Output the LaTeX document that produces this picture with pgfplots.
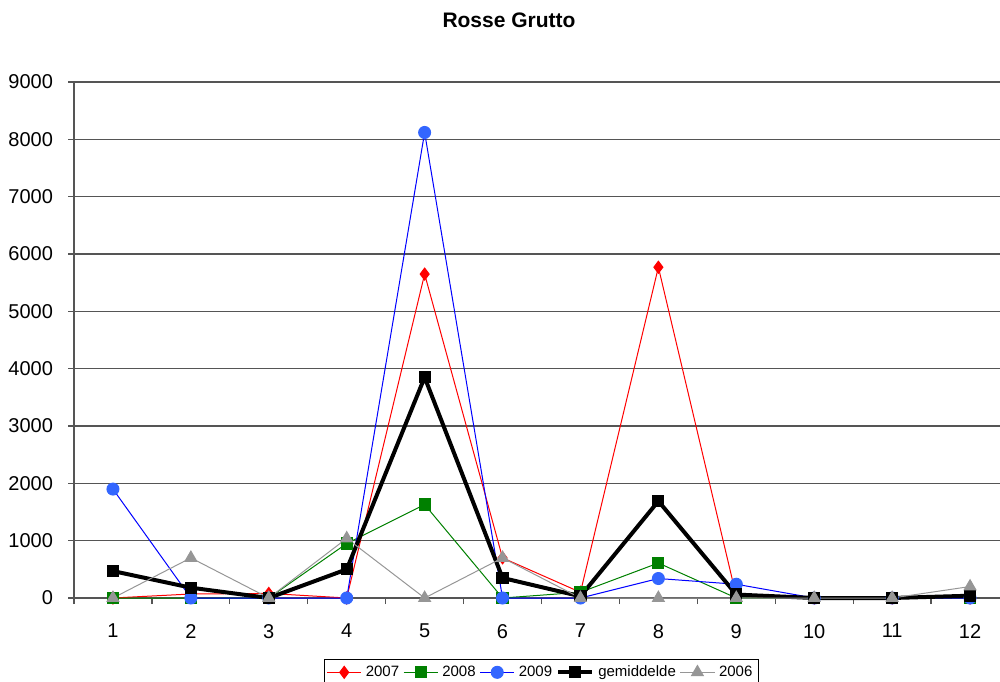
\documentclass[border=0pt]{standalone}
\usepackage{pgfplots}
\pgfplotsset{compat=1.18}
\usetikzlibrary{calc}
\usepackage{fontspec}
\setmainfont{Liberation Sans}

\definecolor{c2007}{HTML}{FF0000}
\definecolor{c2008}{HTML}{008000}
\definecolor{c2009line}{HTML}{0000FF}
\definecolor{c2009mark}{HTML}{3366FF}
\definecolor{c2006}{HTML}{969696}
\definecolor{gridc}{HTML}{555555}

\begin{document}
\begin{tikzpicture}
\begin{axis}[
  scale only axis,
  width=467.5pt, height=258pt,
  xmin=0.5, xmax=12.5,
  ymin=0, ymax=9000,
  xtick={1,...,12},
  minor xtick={0.5,1.5,...,12.5},
  ytick={0,1000,...,9000},
  axis x line*=bottom,
  axis y line*=left,
  axis line style={gridc, line width=0.6pt},
  ymajorgrids,
  major grid style={gridc, line width=0.6pt},
  major x tick style={draw=none},
  minor x tick style={gridc, line width=0.6pt},
  minor tick length=3pt,
  major tick length=3pt,
  tick style={gridc, line width=0.6pt},
  tick align=outside,
  scaled y ticks=false,
  /pgf/number format/assume math mode=true,
  /pgf/number format/1000 sep={},
  ticklabel style={font=\fontsize{10}{12}\selectfont},
  xticklabel style={yshift=-6.5pt},
  yticklabel style={xshift=-4pt},
  clip=false,
  legend style={
    at={(rel axis cs:0.5,-0.118)}, anchor=north,
    draw=black, line width=0.5pt,
    font=\fontsize{7.5}{9}\selectfont,
    inner sep=1pt,
    /tikz/every even column/.append style={column sep=0pt},
  },
  legend columns=-1,
  legend cell align=left,
]
% 2007
\addplot[color=c2007, line width=0.5pt, mark=diamond*, mark size=3pt,
  mark options={fill=c2007, draw=c2007}]
  coordinates {(1,0) (2,70) (3,80) (4,0) (5,5650) (6,700) (7,100) (8,5770)
               (9,30) (10,0) (11,0) (12,0)};
\addlegendentry{2007}
% 2008
\addplot[color=c2008, line width=0.5pt, mark=square*, mark size=2.8pt,
  mark options={fill=c2008, draw=c2008}]
  coordinates {(1,0) (2,0) (3,0) (4,950) (5,1630) (6,0) (7,100) (8,610)
               (9,0) (10,0) (11,0) (12,0)};
\addlegendentry{2008}
% 2009
\addplot[color=c2009line, line width=0.5pt, mark=*, mark size=3pt,
  mark options={fill=c2009mark, draw=c2009mark}]
  coordinates {(1,1900) (2,0) (3,0) (4,0) (5,8120) (6,0) (7,0) (8,340)
               (9,240) (10,0) (11,0) (12,0)};
\addlegendentry{2009}
% average of the years
\addplot[color=black, line width=2pt, mark=square*, mark size=2.8pt,
  mark options={fill=black, draw=black, line width=0.5pt}]
  coordinates {(1,470) (2,180) (3,0) (4,500) (5,3850) (6,350) (7,30) (8,1690)
               (9,60) (10,0) (11,0) (12,40)};
\addlegendentry{gemiddelde}
% 2006
\addplot[color=c2006, line width=0.5pt, mark=triangle*, mark size=3.4pt,
  mark options={fill=c2006, draw=c2006}]
  coordinates {(1,0) (2,700) (3,0) (4,1040) (5,0) (6,700) (7,0) (8,0)
               (9,0) (10,0) (11,0) (12,200)};
\addlegendentry{2006}

\node[font=\bfseries\fontsize{10.5}{12}\selectfont, anchor=center]
  at ($(rel axis cs:0,1)+(217.5pt,31pt)$) {Rosse Grutto};
\coordinate (O) at (rel axis cs:0,0);
\end{axis}
\pgfresetboundingbox
\path (O) ++(-37pt,-41.5pt) rectangle ++(500pt,340.5pt);
\end{tikzpicture}
\end{document}
